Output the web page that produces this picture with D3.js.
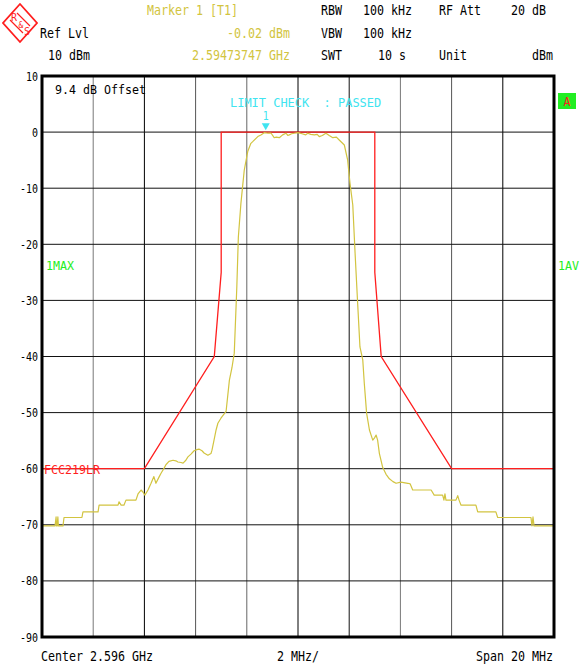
<!DOCTYPE html>
<html><head><meta charset="utf-8">
<script src="https://cdn.jsdelivr.net/npm/d3@7"></script>
<style>html,body{margin:0;padding:0;background:#fff;}svg{display:block;}</style>
</head><body>
<svg id="chart" width="584" height="668"></svg>
<script>
// ---------- data ----------
const yTicks = [10, 0, -10, -20, -30, -40, -50, -60, -70, -80, -90];
const xGrid = [-10, -8, -6, -4, -2, 0, 2, 4, 6, 8, 10];           // MHz offset from center
const limitFreq  = [-10, -6, -3.27, -3, -3, 3, 3, 3.25, 6, 10];
const limitLevel = [-60, -60, -40, -25, 0, 0, -25, -40, -60, -60];
const traceFreq = [
 -10.0,-9.49,-9.45,-9.43,-9.41,-9.38,-9.36,-9.34,-9.18,-9.14,-8.44,-8.40,-7.81,-7.77,-7.03,-6.99,-6.91,-6.80,-6.72,
 -6.33,-6.25,-6.13,-6.05,-5.98,-5.86,-5.74,-5.63,-5.55,-5.43,-5.35,-5.23,-5.16,-5.04,-4.88,-4.77,-4.69,-4.57,-4.49,
 -4.38,-4.30,-4.18,-4.06,-3.95,-3.87,-3.75,-3.67,-3.52,-3.40,-3.36,-3.28,-3.20,-3.13,-3.01,-2.81,-2.68,-2.58,-2.49,
 -2.39,-2.33,-2.23,-2.10,-1.96,-1.84,-1.77,-1.57,-1.45,-1.32,-1.17,-1.05,-0.93,-0.85,-0.73,-0.60,-0.47,-0.40,-0.34,
 -0.25,-0.14,0.0,0.16,0.30,0.38,0.50,0.64,0.75,0.83,0.95,1.09,1.22,1.36,1.50,1.61,1.81,1.94,2.03,2.14,2.23,2.33,
 2.42,2.53,2.59,2.68,2.79,2.92,2.99,3.05,3.11,3.18,3.31,3.44,3.57,3.71,3.83,4.02,4.29,4.38,4.48,5.20,5.32,5.65,
 5.70,5.74,5.78,5.91,6.17,6.24,6.29,6.37,6.95,7.02,7.73,7.80,9.10,9.14,9.18,9.22,10.0];
const traceLevel = [
 -70.2,-70.2,-68.6,-70.2,-70.2,-68.6,-70.2,-70.2,-70.2,-68.7,-68.7,-67.7,-67.7,-66.5,-66.5,-65.9,-66.5,-66.5,-65.6,
 -65.6,-64.5,-63.8,-64.2,-64.7,-63.8,-62.6,-61.4,-62.6,-61.5,-60.8,-59.9,-59.3,-58.7,-58.5,-58.6,-58.8,-58.9,-59.0,
 -58.5,-57.9,-57.4,-56.8,-56.6,-56.5,-56.8,-57.2,-57.6,-57.3,-56.7,-54.9,-53.1,-51.9,-51.0,-49.8,-44.2,-42.0,-39.4,
 -27.6,-18.7,-12.7,-6.8,-3.4,-2.0,-1.7,-0.8,-0.5,-0.1,-0.2,-0.2,-1.0,-0.9,-1.0,-0.5,-0.2,-0.6,-0.5,
 -0.3,-0.2,-0.1,-0.3,-0.5,-0.2,-0.4,-0.5,-0.4,-0.8,-0.6,-0.2,-0.6,-1.0,-0.9,-1.4,-2.3,-5.0,-9.1,-13.0,-21.6,-30.5,
 -38.3,-40.6,-44.8,-50.1,-53.1,-54.9,-54.5,-54.0,-54.9,-57.3,-59.8,-61.0,-61.8,-62.3,-62.6,-62.4,-62.6,-62.7,-63.8,-63.8,-64.7,-64.7,
 -65.6,-64.5,-65.6,-65.6,-65.6,-64.8,-65.6,-66.5,-66.5,-67.7,-67.7,-68.7,-68.7,-70.2,-68.6,-70.2,-70.2];
const markerFreq = -1.26;   // 2.59473747 GHz
const markerLevel = -0.02;

// ---------- layout ----------
const svg = d3.select("#chart");
const x = d3.scaleLinear().domain([-10, 10]).range([42, 554]);
const y = d3.scaleLinear().domain([-90, 10]).range([637, 76]);
const FONT = "'DejaVu Sans Mono', monospace";
const YEL = "#d2c440", RED = "#ff1e1e", CYAN = "#40e4f0", GRN = "#22ee22";

function txt(str, px, py, opt = {}) {
  const cw = opt.cw || 7;
  const t = svg.append("text")
    .attr("x", px).attr("y", py)
    .attr("font-family", FONT)
    .attr("font-size", opt.size || 13.5)
    .attr("fill", opt.fill || "#000")
    .attr("text-anchor", opt.anchor || "start")
    .attr("textLength", str.length * cw)
    .attr("lengthAdjust", "spacingAndGlyphs")
    .style("white-space", "pre")
    .text(str);
  return t;
}

// grid
svg.append("g").selectAll("line.v").data(xGrid.slice(1, -1)).join("line")
  .attr("x1", d => x(d)).attr("x2", d => x(d)).attr("y1", y(10)).attr("y2", y(-90))
  .attr("stroke", (d, i) => [ "#777", "#000", "#555", "#666", "#000", "#111", "#777", "#555", "#000"][i])
  .attr("stroke-width", 1);
svg.append("g").selectAll("line.h").data(yTicks.slice(1, -1)).join("line")
  .attr("x1", x(-10)).attr("x2", x(10)).attr("y1", d => y(d)).attr("y2", d => y(d))
  .attr("stroke", "#111").attr("stroke-width", 1);

// y tick labels
yTicks.forEach(v => txt(String(v), 38, y(v) + 4.5, {anchor: "end", size: 12.5, cw: 6}));

// limit line
const line = d3.line().x(d => x(d[0])).y(d => y(d[1]));
svg.append("path").datum(d3.zip(limitFreq, limitLevel)).attr("d", line)
  .attr("fill", "none").attr("stroke", RED).attr("stroke-width", 1.3);

// trace
svg.append("path").datum(d3.zip(traceFreq, traceLevel)).attr("d", line)
  .attr("fill", "none").attr("stroke", YEL).attr("stroke-width", 1.2).attr("stroke-linejoin", "round");

// border
svg.append("rect").attr("x", x(-10)).attr("y", y(10))
  .attr("width", x(10) - x(-10)).attr("height", y(-90) - y(10))
  .attr("fill", "none").attr("stroke", "#000").attr("stroke-width", 3);

// marker
const mx = x(markerFreq), my = y(markerLevel);
svg.append("path").attr("d", `M${mx - 4},${my - 9}L${mx + 4},${my - 9}L${mx},${my - 2}Z`).attr("fill", CYAN);
txt("1", mx, my - 12, {anchor: "middle", fill: CYAN, size: 12, cw: 6});
txt("LIMIT CHECK  : PASSED", 230, 107, {fill: CYAN, size: 13, cw: 7.2});

// plot annotations
txt("9.4 dB Offset", 55, 94, {size: 13});
txt("FCC219LR", 44, 474, {fill: RED, size: 13});
txt("1MAX", 46, 270, {fill: GRN, size: 12.5});
txt("1AV", 558, 270, {fill: GRN, size: 12.5});
svg.append("rect").attr("x", 558).attr("y", 93).attr("width", 18).attr("height", 16).attr("fill", GRN);
txt("A", 567, 106, {fill: RED, size: 13, anchor: "middle"});

// header
txt("Ref Lvl", 40, 38);
txt("10 dBm", 48, 60);
txt("Marker 1 [T1]", 147, 15, {fill: YEL});
txt("-0.02 dBm", 290, 38, {fill: YEL, anchor: "end"});
txt("2.59473747 GHz", 290, 60, {fill: YEL, anchor: "end"});
txt("RBW", 321, 15); txt("100 kHz", 363, 15); txt("RF Att", 439, 15); txt("20 dB", 511, 15);
txt("VBW", 321, 38); txt("100 kHz", 363, 38);
txt("SWT", 321, 60); txt("10 s", 378, 60); txt("Unit", 439, 60); txt("dBm", 553, 60, {anchor: "end"});

// bottom
txt("Center 2.596 GHz", 41, 661);
txt("2 MHz/", 277, 661);
txt("Span 20 MHz", 553, 661, {anchor: "end"});

// R&S logo
const lg = svg.append("g").attr("transform", "translate(20,23)");
lg.append("path").attr("d", "M0,-19L17,0L0,19L-17,0Z").attr("fill", "none").attr("stroke", RED).attr("stroke-width", 1.8);
lg.append("path").attr("d", "M-10,-3L3,10M-3,-10L10,3").attr("stroke", RED).attr("stroke-width", 1.2);
lg.append("text").attr("x", -6).attr("y", -2).attr("font-family", FONT).attr("font-size", 10).attr("fill", RED).attr("text-anchor", "middle").text("R");
lg.append("text").attr("x", 1).attr("y", 5).attr("font-family", FONT).attr("font-size", 8).attr("fill", RED).attr("text-anchor", "middle").text("&");
lg.append("text").attr("x", 7).attr("y", 12).attr("font-family", FONT).attr("font-size", 10).attr("fill", RED).attr("text-anchor", "middle").text("S");
</script>
</body></html>
